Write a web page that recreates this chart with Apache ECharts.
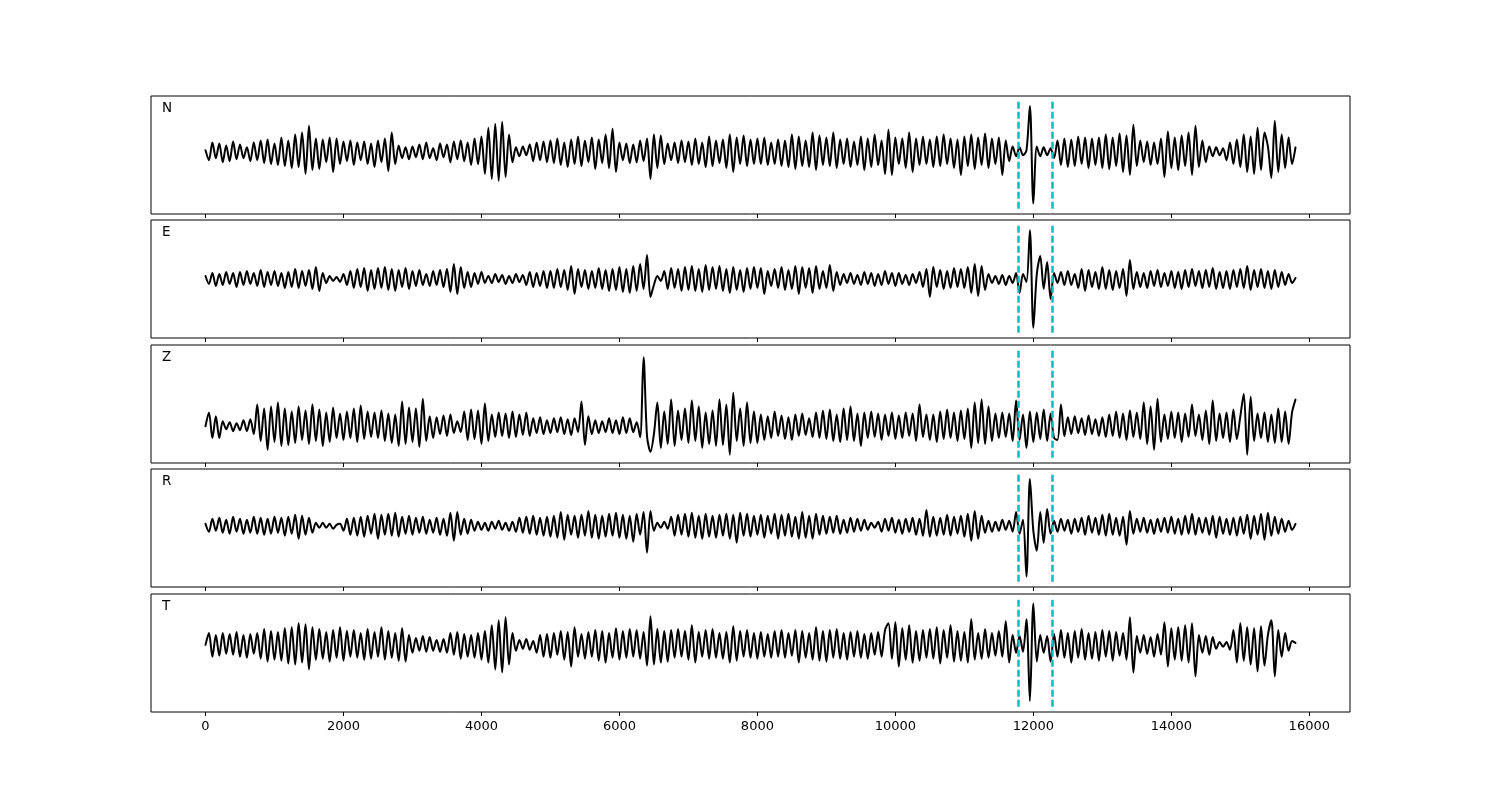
<!DOCTYPE html>
<html>
<head>
<meta charset="utf-8">
<script src="https://cdn.jsdelivr.net/npm/echarts@6/dist/echarts.min.js"></script>
<style>
html,body{margin:0;padding:0;background:#fff;}
#chart{width:1500px;height:800px;}
</style>
</head>
<body>
<div id="chart"></div>
<script>
// ---- data ----
const SAMPLE_STEP = 50;               // samples between consecutive values
const componentNames = ['N', 'E', 'Z', 'R', 'T'];
const xTickValues = [0, 2000, 4000, 6000, 8000, 10000, 12000, 14000, 16000];
const pickTimes = [11775, 12280];

const traceN = [
 2,-8,10,-6,9,-10,7,-9,11,-7,
 8,-6,5,-9,10,-8,12,-11,13,-12,
 9,-13,15,-14,12,-16,18,-15,20,-22,
 27,-18,14,-17,13,-10,15,-20,14,-12,
 11,-9,12,-13,10,-8,11,-12,9,-15,
 12,-10,14,-19,20,-12,7,-6,5,-7,
 6,-5,8,-7,10,-6,4,-8,9,-5,
 8,-10,11,-7,12,-9,10,-13,14,-12,
 16,-22,25,-27,29,-29,31,-25,18,-10,
 5,-4,6,-3,8,-9,10,-8,11,-10,
 12,-11,14,-13,10,-15,13,-12,16,-14,
 12,-10,15,-17,13,-11,18,-16,24,-20,
 10,-8,9,-11,8,-10,12,-9,14,-27,
 18,-16,17,-12,9,-8,10,-11,12,-10,
 11,-13,14,-12,10,-15,16,-14,12,-11,
 13,-16,18,-20,15,-12,17,-14,13,-12,
 14,-12,15,-13,10,-12,13,-14,12,-15,
 18,-17,16,-14,12,-15,20,-18,17,-13,
 15,-14,20,-16,13,-12,14,-15,11,-13,
 16,-18,14,-15,18,-13,12,-22,23,-23,
 15,-12,14,-16,20,-20,14,-13,16,-12,
 13,-15,16,-14,18,-12,14,-16,13,-23,
 16,-14,18,-17,15,-13,19,-16,14,-12,
 15,-23,12,-9,6,-4,5,-3,2,47,
 -52,6,-4,5,-3,4,-6,12,-13,14,
 -15,13,-14,16,-12,15,-16,14,-13,15,
 -16,18,-17,15,-14,19,-20,17,-23,28,
 -14,12,-10,11,-13,10,-12,14,-25,21,
 -16,15,-18,17,-14,20,-23,27,-15,12,
 -10,6,-4,5,-3,4,-8,10,-12,13,
 -15,18,-20,16,-22,25,-18,20,6,-26,
 32,-20,18,-16,15,-12,5
];

const traceE = [
 3,-5,6,-7,5,-6,7,-5,6,-8,
 7,-6,8,-5,6,-7,9,-8,7,-6,
 8,-7,6,-9,7,-8,10,-9,8,-7,
 9,-10,12,-12,6,-4,3,-2,2,-3,
 5,-6,8,-9,10,-8,11,-12,9,-10,
 11,-9,12,-11,10,-12,9,-8,11,-10,
 8,-7,9,-6,5,-7,8,-6,9,-8,
 10,-13,15,-15,12,-9,7,-8,6,-5,
 7,-4,3,-4,5,-3,4,-5,3,-4,
 5,-3,4,-6,7,-8,6,-7,8,-9,
 8,-9,10,-8,9,-11,13,-15,10,-8,
 9,-10,8,-9,11,-10,9,-12,10,-11,
 12,-13,10,-14,13,-12,15,-10,24,-18,
 -6,3,-2,8,-10,11,-9,10,-12,12,
 -11,13,-12,10,-13,14,-11,12,-10,13,
 -12,10,-14,12,-11,9,-13,11,-10,12,
 -9,11,-15,8,-7,10,-9,12,-11,9,
 -10,13,-15,12,-9,11,-14,13,-10,8,
 -9,14,-12,7,-6,5,-4,6,-5,4,
 -6,7,-5,6,-7,5,-6,8,-5,6,
 -7,6,-5,4,-6,5,-4,7,-8,10,
 -18,12,-8,9,-10,8,-9,11,-8,10,
 -9,12,-14,15,-17,13,-11,5,-4,3,
 -5,4,-6,3,-4,6,-14,5,-3,49,
 -49,5,23,-10,17,-20,6,-4,7,-6,
 8,-6,5,-9,10,-12,9,-8,7,-10,
 12,-10,9,-11,8,-9,10,-17,19,-10,
 7,-8,6,-9,8,-7,9,-8,6,-7,
 8,-9,7,-10,9,-8,10,-7,8,-9,
 9,-8,11,-10,7,-9,8,-10,9,-8,
 10,-9,13,-11,9,-8,10,-9,8,-10,
 9,-8,7,-6,5,-4,1
];

const traceZ = [
 0,14,-12,10,-12,5,-3,4,-5,3,
 -4,6,-5,7,-8,22,-15,18,-24,20,
 -16,24,-20,18,-19,15,-17,20,-14,16,
 -18,22,-15,17,-20,14,-16,19,-12,13,
 -14,15,-12,18,-16,21,-13,15,-11,14,
 -12,16,-15,13,-17,12,-20,25,-18,19,
 -16,18,-21,28,-15,10,-12,9,-8,11,
 -10,12,-7,5,-6,15,-14,17,-13,16,
 -18,23,-15,12,-11,14,-10,13,-12,15,
 -11,12,-9,14,-10,8,-7,9,-8,6,
 -7,8,-6,9,-8,7,-9,8,-6,25,
 -19,10,-8,6,-7,5,-6,8,-7,6,
 -8,9,-7,8,-6,4,-11,70,-10,-26,
 -8,24,-22,15,-18,27,-20,16,-14,18,
 -17,26,-15,20,-22,14,-18,16,-20,27,
 -19,22,-29,34,-15,18,-20,24,-17,15,
 -17,12,-14,10,-12,15,-10,11,-13,9,
 -14,12,-10,13,-9,8,-11,14,-12,16,
 -13,17,-15,12,-16,18,-14,20,-15,13,
 -20,14,-12,15,-11,13,-14,12,-10,14,
 -13,11,-12,14,-10,13,-15,22,-11,12,
 -14,12,-16,15,-13,17,-12,14,-15,16,
 -13,18,-22,24,-17,27,-18,20,-15,13,
 -12,14,-11,13,-15,26,-14,12,-22,15,
 -16,14,-13,17,-15,13,-12,-14,22,-10,
 9,-8,10,-7,8,-9,11,-8,7,-10,
 9,-11,12,-10,15,-12,13,-14,16,-11,
 14,-13,24,-18,20,-24,28,-16,12,-13,
 15,-12,14,-16,13,-11,22,-10,12,-14,
 16,-18,26,-15,13,-12,14,-16,17,-13,
 10,33,-29,30,-15,13,-12,14,-16,12,
 -17,18,-16,15,-18,14,27
];

const traceR = [
 2,-6,7,-5,8,-7,6,-8,9,-6,
 7,-8,6,-7,9,-8,8,-9,7,-8,
 9,-7,8,-10,9,-8,11,-13,10,-9,
 8,-7,3,-2,3,-2,2,-3,1,2,
 -5,7,-9,8,-10,9,-11,10,-8,12,
 -13,11,-9,12,-10,13,-11,9,-8,10,
 -9,8,-7,9,-8,6,-7,8,-9,7,
 -10,13,-15,14,-9,7,-8,6,-5,4,
 -4,3,-5,4,-3,5,-4,3,-5,4,
 -6,8,-7,9,-8,10,-9,8,-10,9,
 -11,10,-12,14,-14,11,-9,10,-12,11,
 -10,15,-12,11,-13,10,-11,12,-10,13,
 -12,11,-13,10,-16,12,-9,14,-27,15,
 -5,3,-2,4,-3,9,-10,11,-9,12,
 -11,13,-12,10,-13,12,-11,10,-12,11,
 -10,12,-13,11,-17,13,-10,12,-11,10,
 -9,11,-12,10,-8,12,-13,11,-10,12,
 -11,9,-13,14,-12,10,-13,12,-9,10,
 -8,9,-7,10,-8,6,-7,8,-6,7,
 -5,6,-4,3,-2,4,-6,7,-5,8,
 -7,6,-8,7,-6,8,-9,7,-10,16,
 -11,9,-10,8,-9,11,-10,9,-8,10,
 -11,12,-15,15,-13,10,-7,5,-6,4,
 -5,6,-4,5,-6,14,-8,6,-51,47,
 -5,-25,14,-17,17,-8,5,-6,7,-5,
 6,-8,7,-6,8,-9,10,-7,8,-9,
 11,-10,12,-9,8,-10,9,-19,15,-8,
 7,-6,8,-7,6,-8,7,-6,8,-7,
 9,-8,7,-9,10,-8,12,-9,8,-7,
 8,-9,10,-12,9,-8,7,-9,8,-10,
 9,-8,11,-13,10,-9,12,-14,13,-10,
 9,-8,7,-6,5,-4,2
];

const traceT = [
 0,12,-12,10,-11,12,-9,11,-10,13,
 -12,10,-13,11,-9,12,-14,16,-17,14,
 -15,13,-16,17,-19,18,-20,22,-18,21,
 -25,18,-15,16,-14,13,-17,15,-13,18,
 -16,14,-12,15,-13,12,-15,16,-14,13,
 -12,18,-15,14,-13,12,-16,17,-17,10,
 -8,7,-6,9,-7,8,-6,5,-7,6,
 -8,12,-10,13,-14,11,-12,10,-13,12,
 -15,14,-18,20,-25,25,-28,28,-20,12,
 -6,5,-4,6,-5,4,-8,10,-12,11,
 -13,12,-10,14,-15,13,-22,18,-12,11,
 -14,13,-12,15,-16,14,-18,12,-13,17,
 -15,14,-13,16,-12,15,-14,13,-21,29,
 -20,16,-18,14,-17,15,-13,16,-12,14,
 -15,20,-18,13,-12,15,-14,16,-13,12,
 -14,13,-18,19,-16,14,-12,15,-13,12,
 -14,13,-12,11,-13,14,-12,15,-13,12,
 -11,15,-18,14,-13,12,-15,18,-16,14,
 -17,15,-13,16,-14,12,-15,13,-12,14,
 -13,11,-14,12,-10,13,-12,15,22,-14,
 23,-22,17,-15,20,-18,14,-16,15,-13,
 16,-14,18,-19,15,-13,20,-17,14,-16,
 13,-18,26,-15,12,-14,16,-13,12,-11,
 14,-12,24,-18,10,-8,9,-7,26,-57,
 42,-17,10,-8,9,-17,11,-12,15,-13,
 12,-18,14,-13,16,-15,12,-14,13,-16,
 15,-12,14,-16,13,-11,12,-15,28,-28,
 9,-8,10,-9,8,-12,11,-10,23,-22,
 17,-15,18,-16,20,-18,22,-32,10,-8,
 9,-10,8,-4,3,-2,3,-5,15,-18,
 22,-16,18,-20,17,-27,19,-21,10,25,
 -32,15,-12,12,-6,4,2
];

const traces = [traceN, traceE, traceZ, traceR, traceT];

// ---- layout ----
const panelTops = [96, 220, 345, 469, 594];
const panelHeight = 118;
const panelLeft = 151;
const panelWidth = 1199;
const lastX = (traceN.length - 1) * SAMPLE_STEP;
const xPad = lastX * 0.05;
const xMin = -xPad, xMax = lastX + xPad;

const grids = [], xAxes = [], yAxes = [], series = [], graphics = [];

traces.forEach((tr, i) => {
  const dMin = Math.min(...tr), dMax = Math.max(...tr);
  const lo = dMin * 1.1, hi = dMax * 1.1;
  const pad = (hi - lo) * 0.05;
  grids.push({
    left: panelLeft, top: panelTops[i], width: panelWidth, height: panelHeight,
    show: true, borderColor: '#000', borderWidth: 1, backgroundColor: 'transparent'
  });
  xAxes.push({
    type: 'value', gridIndex: i, min: xMin, max: xMax, position: 'bottom',
    axisLine: { show: false, onZero: false },
    axisTick: { show: true, inside: false, length: 4, customValues: xTickValues,
                lineStyle: { color: '#000', width: 1 } },
    axisLabel: { show: i === traces.length - 1, customValues: xTickValues,
                 formatter: v => String(v),
                 color: '#000', fontSize: 13, fontFamily: 'DejaVu Sans', margin: 8 },
    splitLine: { show: false }
  });
  yAxes.push({
    type: 'value', gridIndex: i, min: lo - pad, max: hi + pad,
    axisLine: { show: false }, axisTick: { show: false },
    axisLabel: { show: false }, splitLine: { show: false }
  });
  series.push({
    type: 'line', xAxisIndex: i, yAxisIndex: i,
    data: tr.map((v, k) => [k * SAMPLE_STEP, v]),
    showSymbol: false, symbol: 'none', smooth: 0.3,
    lineStyle: { color: '#000', width: 2, join: 'round', cap: 'round' },
    silent: true, animation: false, clip: true,
    markLine: {
      silent: true, symbol: ['none', 'none'], animation: false,
      label: { show: false },
      lineStyle: { color: '#00bfbf', width: 2.5, type: [7, 3] },
      emphasis: { disabled: true },
      data: pickTimes.map(t => [{ coord: [t, lo] }, { coord: [t, hi] }])
    }
  });
  graphics.push({
    type: 'text', left: 162, top: panelTops[i] + 5,
    style: { text: componentNames[i], fill: '#000', font: '13.5px "DejaVu Sans"' }
  });
});

const chart = echarts.init(document.getElementById('chart'), null, { renderer: 'canvas' });
chart.setOption({
  animation: false,
  backgroundColor: '#fff',
  grid: grids,
  xAxis: xAxes,
  yAxis: yAxes,
  series: series,
  graphic: graphics
});
</script>
</body>
</html>
